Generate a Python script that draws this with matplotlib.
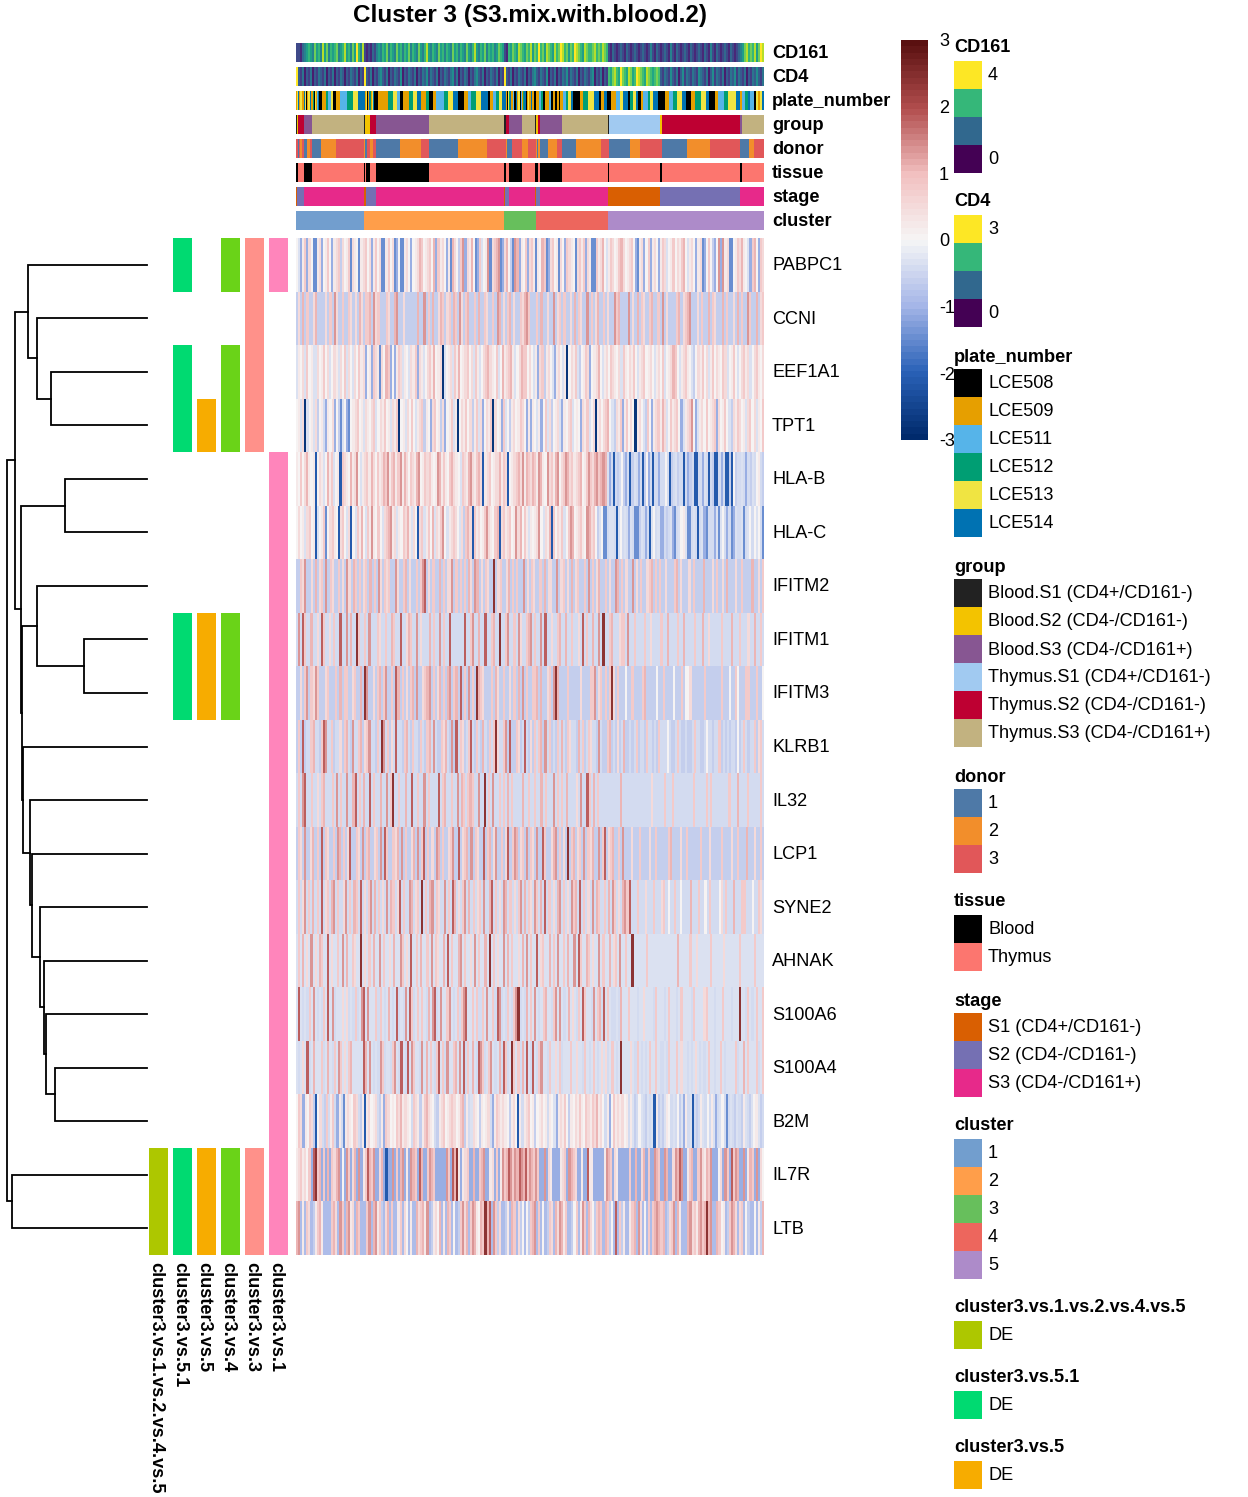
import numpy as np
import matplotlib
matplotlib.use('Agg')
import matplotlib.pyplot as plt
from matplotlib.colors import LinearSegmentedColormap, ListedColormap, Normalize

plt.rcParams['font.family'] = ['Liberation Sans', 'DejaVu Sans']

W, H = 1248, 1497

genes = ['PABPC1', 'CCNI', 'EEF1A1', 'TPT1', 'HLA-B', 'HLA-C', 'IFITM2', 'IFITM1', 'IFITM3', 'KLRB1',
         'IL32', 'LCP1', 'SYNE2', 'AHNAK', 'S100A6', 'S100A4', 'B2M', 'IL7R', 'LTB']

# expression per cell, one letter per cell
levels = dict(A=-2.8, B=-2.1, C=-1.5, D=-1.1, e=-0.9, E=-0.65, F=-0.45, G=-0.3, H=0.0, I=0.25,
              J=0.5, K=0.8, L=1.1, M=1.4, N=1.8, O=2.4)
expr = [
    'HGDIKDJHCCIJDHIKHDIJKEJHIKCJIHCIJKHJDIKHJCCIKHJCDHCCIJHDHIJLKHIJKHLDKIJHDICLJHEKMDJILHCDKGHIMCJKLMCDJLHECMLDIHKDJ'
    'KICIHLKCDJKHICJHDKJIHCJKIKDJICCKIJLHGIKJHIKLJHIJKHDCIJDHKDIJHDIKJGHIKHJIKLHGIJHDIJCDHKHEDHMDMIJCCHIKJLIHGDKLHDKJ',
    'EJELEKEEJLEEEEJEKEMJEEKEEKJEJELJEKKLEMJKEEEKJEELMEEJEEEEEELEEMEKELEEJLKEJKELKEMJEKLEEKELEEKJEEKEMLEJEKLEJEEKJLMK'
    'EEEKELEEJEEMEJKEKEEJELEKJEEMEKEJLEEKEJEEMKLEEEEMEJELEKJEEKLEEKEMEJEEEEKLEJKLMEEEJEKEELEKJEEELEKEEJELEKEEMKEELEJK',
    'GIHJGKHIGGJHIKHJGHJIGJHKGJHGJHKIJDHIDKJICJHLKDHDIKJGIHGJIKDJIGHJKILHIJAGHIJGKILHIJKHJGKIGHJKLJIHKGHLIJKLIGHJLKKHJ'
    'HGIDJKEIJHGDIJHGIAHJIKGEHIKJDHIJLHGIJHKJIHJGKIHJIKHGIJKHIJHGIJHKGHIJLKHGIJKIHGEHJIKHJGIKHJIHKJGHIKHGHJKIJGHJKIHJ',
    'HIGJAGHIGJEHIFDIHJDHECGHDCHIJKHIGJIHJKGHJIKHIGJIKAHIGJHKHGIJKEIHDJKHIEJDHIKGIAHJIKHJEIKGJDHJIKAJHIDKGHEIJHIKJHDI'
    'DIHGIDHKGJEHIJGDIHJKGHIHDJIKGHJAIJHJKLHGEJIKDIKHJHAIJHGEKHDIJKILJGHKIJKHDGIJKMHDGIJHKHIJKDJHIKHGEJIKJHIGJKHJGIHK',
    'IHKHJLIHIBHJIGHLIKGHIBKJIHLIJMHGIJKILJHKIJLKMIKLIKMILJHKJILMHIKJKIHIMLIKIHKLJIHGKJILMJIKLJBIJKHIJJLIKJBHIJKLJMILK'
    'JLKIMLIHMJKILMHJKMLJKIJKLHIKMKJLMKLMLGDFBFEFHEDFBEGFDFBEHDFBFFDFFHFBEFGEFFBFDEFBBFFDGFBFEBBFDFBBEBHEFFGFDFEGFHIFE',
    'HJHIGJKHIBGHIKCHJKIHBJKHGJBHGKILHGKIMIHKHGJKLMIJGIHKJLIGJHBJKGIKHLGJIKMHGIJKJHGJEKLJBKIJHIKMJIHKLBJKIJKHIMJLHKIGI'
    'HIJMHGJILBKHJIKGHKMLHIJKIHMLJKHEGHCCFGGFBGHFGFDGFCCEGFDFBGHFGDDFEFGDCFGHIGCCFGFBFGDCFFFDGCGHFDFCDGFFGCFGHFHGHFC',
    'EEKJMEEJELEJKEMEKJEEKEJEMJELKEKEJKELEKEMJEKJKEEMJEEKLEJEEKEKMNEJEKEELEKEJJMEKEKEKELJEMLEJEKJEEOEJKEEJLEKEKEEMEJEK'
    'JEEKELEJJEEMEJKEJELEJKEEKEMEKEJLEEKEJEEMLEKEJEEMEJEKEEJKLEKEKEEJEEEKLEJEEEJEKEEEELEEEJEKEEJELEEEJEEKEEEELEEJEK',
    'FMFNKFFLFFJFNKFFJFKFFNFFMFLFFOKFFKFMFFFKJFFKFFLKFFNFFJLKFFMFJFFFLFKFFMFKFFNFFFFFFNFFKMFFLFFNFFKLFFOFFKMFFKFMJFFKLM'
    'FKFFMFNFFJFFKLFFLFFKFFJFNFKFFLFFMFOFFKLFFFJKKFMFFKFFFFKFFJFFFFKFFLFFFFKFFLFFFFKFFFLFFJFFFFFKFFFFLFFFKFFFJFFLFFKF',
    'EEJEKMEKJMKEEEJKEEEKELEKKEEJKEELEOMEEJEKLEKMEEKENLEKEJEKLEMEEJKLMEKEJLEKELMEKLENEKEMEKEOLKJEEEKELJEEKEEJEKELEMEKE'
    'EKKLELEEJKEMOLEEEEKEEEEEJEEEEKKMEJKEKEKOJEKEEEHEEKEEEEKLEEEEEHEEKEEEEHEEEKEHHJEEEEEEKEEEEEEEKEEEHEEKHEEEKKEEEKEEH',
    'EKENEFFKLFFEKNMFFKEFFJEKLFEMFFKLEJKMFFEKFOMFKEJFNFFEKLFEKFFEKFEKLFMFEEKJLFEMENFKJEFKNFEKFELFEKFKOJFFKMENEEKJEFNFE'
    'JEKFKLEMFKEFEKFLFEKJFFELFKEFKJFFEMFEEKLEFEJEFLEEFEFKEFFEKFFEFEKFFFHFEEFKFEEFEEFKFFEEFHFFEFFKEFEFEFFEHEFKFEFFKEJKF',
    'FKFMNFFKFFJFKLFFFKFMFKFFMFFLNFKFLFFNFKFFLFFMFKOFFKFFLFFNFFKFFMFKFFFFNFKLFFKFFMFLKFKLKFFMFFOFKFMFFKFKFLFKFFFFLFFK'
    'FFKFFLFKFFFMFKFKFLFFFFJFMFFNKFLFKFFFFFFFFFFLFFFFFFFFFFFFFFJFFFFFKFFFKFFFFFFFFFKFFFFFKFKFFFFFFFFKFFFLFFFFKFFFFFKF',
    'EKJEMEEJLEKENEKJEEKEMLEKEJNEEKJEMEKLEEJKEMENKEEKJLEMEKEEJLEMEKNEKEJEMLEKEEJKMEENEJKLEMEKJEENEKLEJMEEKEJNEKMLEJKEME'
    'KJEMEENKEEJLMEKEJEOEKLEJKEMEKJLEEMEKNEJKLEEKEMEEEJEEEKEEEEJEEKEEEEEKLEEEEJEEKEEEEEEKEEEJEEEEEKEEEEJEEKEEELEEEJEEKE',
    'FKFJMFKFLFKFNFJKFLMFKFFJMFKFLKFNFJFKMFLFKFJFMFLKFJNFKFFMLFJKFOFKFLMFKJFFMFKFNLFJFKMFLFKFJKFMFFLNFKFJFMLFKFJFKMFLFK'
    'JFMKFLFNFKFJFLMFKFJFMKLFNFKFJFMFLKFFKFLFMKFJFLMKNFFFKFFFJFFFKFFFJKFHFFKFFHFFFFLFFFKFFHFKFFFFHJFKFFFLFFFKKFFFHFFKJF',
    'GKGLGJGMGJGLKGGNGJGGKGMGLGGKJGGOGJGKGLGGMGKGGJGLGGMKGJGNGGKGLGGKGMGKJGGLGNGKGGLMGKGGJGMGKGGLGOGKGJGGMGLGKGGJGLGMG'
    'KGGNGJKGGLGKGMGGKGLGGMGNKGGLKGJGGMGKGGLGJKGMGGKGGOGGGGGGKGGGGGGGGGGGGGGLGGGGGKGGJGGGGGGKGGGGGJGGGGGGGKGGGGGGKGGGG',
    'GNGFGFKGMGFGFKGNGMFGGGJGJFGFKFGMNGMGGGKFKGFGLGFGNFGFMGNKFGKGKGFLGMNFGMGGKMGFGKFKMNGGKGKFFKGMGGKFNMFGFKGFKMOFGFLGK'
    'GMGFGKLGGFKMGMGFGLGJGFKGNKGGFMGKLFNGKGFFGFLGGGKGGGFGGJGGGGFKGGGFGKGGGFGKGGGGFKGGGGJKGGGFGGGKGGGFGGGOGGFKGFGKGGK',
    'GFGJGNFGLGGGKFGLGFKGMKGJGKLGGGGGNLGMGFGFMKFGGFKMGFNGFNGMKGGFMGLGKGFKNGKFMGGKLGMGNFKGLGFNMKFGKMGFGLFNKFGOKGKFLGNGF'
    'NGFKMGGFKGGJGKFGGGKGGJGGFKGFGKGFGJGJFGKGFGOGGGGJGFKGFGFGKGGKGFFGFKGGGKGJGGFGFGJGFGFGKGGFGGKGFGGGGKFGGLGKGGGKFGK',
    'HKJDIHKJEBHJFEKFIKFDIFCIJIHKJFEIBIJHIJFEIDKJHIHKJLIJIHFKJIEIKLJIHFEIJKHIJKJHIKLEIFGJIHEIHIJFDIKJIJIHEIJHBIFIJKHIE'
    'HIJHIFIHGDIJIKHEIHJIKIHKJIKJLIJHFIDHKIJIJHIFIGEFHGFEGFGBIEFEGIHFGFHEGDIFGBFEFIGFHFIGDFGHFCFGFEGFEIGFEGHIGEF',
    'IJKIJHKDNOKLDKDLDKJLMDHDMKDJLDMDIKNLKMDDJLDBDDMDKDLMDIDMLKDNLDDKMLKDDDDDMKDNLOIDIJKDDLDDKLMDDIJDKDIMKLNMKMLNMLNKM'
    'LKMKDDMDJIDDDDIJKDMLKJDDIDDNIIDDDDDIMLKDJIDDDDDKDDLDDJLDKDDMLKDDMLDDJMLNMDDIKLDDKMJILKMDDDHJDMKDNKMLDDMDILKDMDJH',
    'LMeIeKJeEIKLIeeeeKLJeMKeLMIJeLKeeeKMeLMIKEeJLeKeeIKeJHeIeeLJKLIMeEIJHLeIeLKeHeEKMJLeKMLIHLKOLNeMKEJeeEIeLKeJEHeHE'
    'KLMeKeHeEKJeLJMLIKeeEHKeIMKeLJHEKLKeLKEHeNeKEIeeIKLeMJeHeKeKLMLKLeEJKMeLIeeeLMJKILMKLOLMeeLKHIeEKMLJeJKeHEeeHeIEL',
]

n_rows = len(genes)

# per gene membership of the differential expression bars
de_names = ['cluster3.vs.1.vs.2.vs.4.vs.5', 'cluster3.vs.5.1', 'cluster3.vs.5', 'cluster3.vs.4', 'cluster3.vs.3', 'cluster3.vs.1']
de_genes = [
    ['IL7R', 'LTB'],
    ['PABPC1', 'EEF1A1', 'TPT1', 'IFITM1', 'IFITM3', 'IL7R', 'LTB'],
    ['TPT1', 'IFITM1', 'IFITM3', 'IL7R', 'LTB'],
    ['PABPC1', 'EEF1A1', 'TPT1', 'IFITM1', 'IFITM3', 'IL7R', 'LTB'],
    ['PABPC1', 'CCNI', 'EEF1A1', 'TPT1', 'IL7R', 'LTB'],
    ['PABPC1', 'HLA-B', 'HLA-C', 'IFITM2', 'IFITM1', 'IFITM3', 'KLRB1', 'IL32', 'LCP1', 'SYNE2', 'AHNAK', 'S100A6',
     'S100A4', 'B2M', 'IL7R', 'LTB'],
]
de_colors = ['#ADC700', '#00DA71', '#F7AC00', '#6AD318', '#FF918A', '#FF85BB']

# dendrogram merges: left, right, height. Leaves are 0-18, new nodes count up from 19
merges = [
    (2, 3, 96), (1, 19, 110), (0, 20, 119),
    (4, 5, 82),
    (7, 8, 63), (6, 23, 110),
    (15, 16, 92), (14, 25, 101), (13, 26, 103), (12, 27, 107), (11, 28, 115), (10, 29, 117), (9, 30, 124),
    (24, 31, 125), (22, 32, 126), (21, 33, 132),
    (17, 18, 135), (34, 35, 140),
]

# top annotation tracks, cell values
cd161 = ('2213' '456547564857465674568564759648' '212132'
         '4546574654756465746547546854654756465475646547546854657465645765'
         '21' '65765876576857696758765867986757698765876678676876'
         '213212321321232123212421321232142132123213212321321421321232132123'
         '457867685798')
cd4 = ('9' '213021302132130213021320213213021' '9'
       '213021342130213214021321302132413213021321341302132021342130213213021'
       '9' '213021321302134213214021302132413213021321340213021'
       '65786597658756987658765676'
       '2132142130241321321432130241321302132413213021324213')
cd_cmap = plt.get_cmap('viridis')

plate_labels = ['LCE508', 'LCE509', 'LCE511', 'LCE512', 'LCE513', 'LCE514']
plate_colors = ['#000000', '#E69F00', '#56B4E9', '#009E73', '#F0E442', '#0072B2']
plate_runs = [(1, 1), (4, 1), (5, 1), (1, 1), (4, 2), (1, 2), (5, 1), (4, 1), (0, 1), (1, 1), (4, 2), (5, 1),
              (1, 2), (3, 1), (0, 1), (4, 1), (1, 1), (2, 1), (5, 1), (0, 3), (1, 4), (3, 2), (2, 2), (4, 2), (0, 3),
              (1, 4), (2, 7), (3, 6), (4, 5), (5, 7), (1, 1), (4, 1), (0, 1), (1, 1), (5, 1), (3, 1), (1, 1), (4, 1), (5, 1), (0, 1),
              (0, 3), (1, 10), (3, 5), (4, 3), (2, 3), (0, 3), (1, 6), (3, 4), (4, 4), (5, 4), (1, 5), (3, 3), (0, 4), (1, 3),
              (2, 8), (3, 4), (4, 5), (5, 5), (0, 5), (1, 4), (2, 3), (3, 5), (4, 5), (5, 7), (0, 2), (1, 3), (2, 3), (3, 3), (4, 3), (5, 4),
              (1, 1), (0, 1), (4, 1), (3, 1), (5, 1), (1, 2), (2, 1), (0, 2), (5, 1), (1, 1), (4, 2), (0, 1), (2, 1), (1, 1), (3, 1), (5, 2), (0, 1), (1, 1),
              (4, 1), (1, 1), (5, 1), (1, 2), (0, 2), (1, 3), (2, 2), (3, 2), (0, 2), (1, 4), (2, 2), (0, 2), (1, 2), (0, 2), (1, 2), (0, 1), (1, 3), (2, 3), (3, 2), (4, 3),
              (5, 2), (0, 7), (1, 3), (3, 5), (4, 6), (5, 4), (0, 2), (1, 3), (5, 3), (0, 4), (1, 5), (2, 4), (4, 3), (5, 5), (0, 2), (3, 3), (4, 3), (5, 2),
              (0, 3), (1, 2), (2, 5), (3, 2), (4, 3), (5, 5), (0, 2), (0, 4), (1, 4), (2, 4), (3, 4), (4, 5), (5, 4), (0, 5), (1, 4), (3, 6), (4, 5), (5, 3),
              (0, 6), (1, 3), (2, 6), (3, 4), (4, 7), (5, 4), (1, 2), (2, 3), (3, 3), (5, 2), (2, 4), (0, 2), (4, 2), (1, 2), (4, 2), (5, 2)]

group_labels = ['Blood.S1 (CD4+/CD161-)', 'Blood.S2 (CD4-/CD161-)', 'Blood.S3 (CD4-/CD161+)',
                'Thymus.S1 (CD4+/CD161-)', 'Thymus.S2 (CD4-/CD161-)', 'Thymus.S3 (CD4-/CD161+)']
group_colors = ['#222222', '#F3C300', '#875692', '#A1CAF1', '#BE0032', '#C2B280']
group_runs = [(0, 1), (1, 1), (4, 6), (2, 8), (5, 52), (0, 1), (1, 5), (4, 6), (2, 53), (5, 75), (0, 2), (4, 3), (2, 13), (5, 13),
              (0, 1), (1, 2), (4, 2), (2, 22), (5, 46), (0, 1), (3, 51), (1, 2), (4, 78), (2, 2), (5, 22)]

donor_labels = ['1', '2', '3']
donor_colors = ['#4E79A7', '#F28E2B', '#E15759']
donor_runs = [(2, 2), (0, 1), (2, 1), (1, 2), (2, 2), (0, 3), (1, 3), (2, 2), (0, 9), (1, 15), (2, 28), (1, 1), (0, 2), (2, 3), (1, 3), (2, 3),
              (0, 24), (1, 21), (2, 8), (0, 29), (1, 29), (2, 19), (1, 1), (0, 5), (2, 10), (1, 6), (2, 8), (1, 1), (0, 1), (1, 2),
              (0, 8), (1, 9), (2, 5), (0, 14), (1, 25), (2, 8), (0, 21), (1, 10), (2, 22), (0, 25), (1, 23), (2, 30), (0, 9), (1, 5), (2, 10)]

tissue_labels = ['Blood', 'Thymus']
tissue_colors = ['#000000', '#FC766F']
tissue_runs = [(0, 2), (1, 6), (0, 8), (1, 52), (0, 1), (1, 1), (0, 4), (1, 6), (0, 53), (1, 75), (0, 2), (1, 3), (0, 13), (1, 13),
               (0, 3), (1, 2), (0, 22), (1, 46), (0, 1), (1, 51), (0, 2), (1, 78), (0, 2), (1, 22)]

stage_labels = ['S1 (CD4+/CD161-)', 'S2 (CD4-/CD161-)', 'S3 (CD4-/CD161+)']
stage_colors = ['#D95F02', '#7570B3', '#E7298A']
stage_runs = [(0, 1), (1, 7), (2, 60), (0, 2), (1, 10), (2, 128), (0, 1), (1, 4), (2, 26), (0, 1), (1, 4), (2, 68), (0, 52), (1, 80), (2, 24)]

cluster_labels = ['1', '2', '3', '4', '5']
cluster_colors = ['#729ECE', '#FF9E4A', '#67BF5C', '#ED665D', '#AD8BC9']
cluster_runs = [(0, 68), (1, 140), (2, 32), (3, 72), (4, 156)]

heat_cmap = LinearSegmentedColormap.from_list('heat', ['#002A6C', '#2A62B8', '#A5B6E8', '#F6F6F6', '#F2C0C0', '#B24E4E', '#5A1010'], N=64)
heat_norm = Normalize(-3, 3)


def px_axes(x0, y0, x1, y1):
    ax = fig.add_axes([x0 / W, 1 - y1 / H, (x1 - x0) / W, (y1 - y0) / H])
    ax.set_axis_off()
    return ax


def px_text(x, y, s, **kw):
    kw.setdefault('fontsize', 13.1)
    kw.setdefault('va', 'center')
    return fig.text(x / W, 1 - (y + 1) / H, s, **kw)


def draw_cells(ax, values, cmap, norm, row=0):
    edges = np.linspace(0, 1, len(values) + 1)
    ax.pcolormesh(edges, [row, row + 1], np.array(values, dtype=float)[None, :], cmap=cmap, norm=norm)


def from_runs(runs):
    return np.concatenate([np.full(n, v) for v, n in runs])


fig = plt.figure(figsize=(W / 100, H / 100), dpi=100)

px_text(530, 14.5, 'Cluster 3 (S3.mix.with.blood.2)', fontsize=17.5, fontweight='bold', ha='center')

# top tracks
cell_tracks = [
    ('CD161', [int(c) for c in cd161], cd_cmap, Normalize(0, 9), 43),
    ('CD4', [int(c) for c in cd4], cd_cmap, Normalize(-0.8, 9), 67),
    ('plate_number', from_runs(plate_runs), ListedColormap(plate_colors), Normalize(-0.5, 5.5), 91),
    ('group', from_runs(group_runs), ListedColormap(group_colors), Normalize(-0.5, 5.5), 115),
    ('donor', from_runs(donor_runs), ListedColormap(donor_colors), Normalize(-0.5, 2.5), 139),
    ('tissue', from_runs(tissue_runs), ListedColormap(tissue_colors), Normalize(-0.5, 1.5), 163),
    ('stage', from_runs(stage_runs), ListedColormap(stage_colors), Normalize(-0.5, 2.5), 187),
    ('cluster', from_runs(cluster_runs), ListedColormap(cluster_colors), Normalize(-0.5, 4.5), 211),
]
for name, vals, cmap, norm, top in cell_tracks:
    ax = px_axes(296, top, 764, top + 19)
    draw_cells(ax, vals, cmap, norm)
    ax.set_xlim(0, 1)
    ax.set_ylim(1, 0)
    px_text(772, top + 9, name, fontweight='bold')

# heatmap, one row at a time
ax = px_axes(296, 238, 764, 1255)
for i, row in enumerate(expr):
    draw_cells(ax, [levels[c] for c in row], heat_cmap, heat_norm, i)
ax.set_xlim(0, 1)
ax.set_ylim(n_rows, 0)
row_h = (1255 - 238) / n_rows
for i, g in enumerate(genes):
    px_text(772, 238 + row_h * (i + 0.5), g)

# differential expression bars
for k, (name, members, col) in enumerate(zip(de_names, de_genes, de_colors)):
    x0 = 149 + 24 * k
    ax = px_axes(x0, 238, x0 + 19, 1255)
    ax.barh([genes.index(g) + 0.5 for g in members], [1] * len(members), height=1, color=col, linewidth=0)
    ax.set_xlim(0, 1)
    ax.set_ylim(n_rows, 0)
    fig.text((x0 + 6.5) / W, 1 - 1262 / H, name, rotation=-90, ha='center', va='top', fontsize=13.1, fontweight='bold')

# dendrogram
ax = px_axes(0, 238, 147, 1255)
node_y = {i: i + 0.5 for i in range(n_rows)}
node_h = {i: 0 for i in range(n_rows)}
for k, (a, b, h) in enumerate(merges):
    ax.plot([node_h[a], h, h, node_h[b]], [node_y[a], node_y[a], node_y[b], node_y[b]],
            color='black', lw=1.3, solid_joinstyle='miter', clip_on=False)
    node_y[n_rows + k] = (node_y[a] + node_y[b]) / 2
    node_h[n_rows + k] = h
ax.set_xlim(147, 0)
ax.set_ylim(n_rows, 0)

# colour bar
ax = fig.add_axes([901 / W, 1 - 440 / H, 27 / W, 400 / H])
grad = np.linspace(-3, 3, 64)
ax.pcolormesh([0, 1], np.linspace(-3, 3, 65), grad[:, None], cmap=heat_cmap, norm=heat_norm)
ax.set_xticks([])
ax.set_ylim(-3, 3)
ax.yaxis.tick_right()
ax.set_yticks(range(-3, 4))
ax.set_yticklabels([str(v) for v in range(-3, 4)], fontsize=13.1)
ax.tick_params(axis='y', length=0, pad=8)
for s in ax.spines.values():
    s.set_visible(False)


# legends
def legend(title, title_y, top, labels, colors, label_rows=None):
    px_text(954, title_y, title, fontweight='bold')
    ax = px_axes(954, top, 982, top + 28 * len(colors))
    ax.pcolormesh([0, 1], np.arange(len(colors) + 1), np.arange(len(colors))[:, None],
                  cmap=ListedColormap(colors), vmin=-0.5, vmax=len(colors) - 0.5)
    ax.set_ylim(len(colors), 0)
    if label_rows is None:
        label_rows = range(len(labels))
    for r, lab in zip(label_rows, labels):
        px_text(988, top + 28 * r + 14, lab)


vir4 = ['#FDE725', '#35B779', '#31688E', '#440154']
legend('CD161', 47, 61, ['4', '0'], vir4, [0, 3])
legend('CD4', 201, 215, ['3', '0'], vir4, [0, 3])
legend('plate_number', 356, 369, plate_labels, plate_colors)
legend('group', 566, 579, group_labels, group_colors)
legend('donor', 776, 789, donor_labels, donor_colors)
legend('tissue', 901, 915, tissue_labels, tissue_colors)
legend('stage', 1000, 1013, stage_labels, stage_colors)
legend('cluster', 1125, 1139, cluster_labels, cluster_colors)
legend(de_names[0], 1307, 1321, ['DE'], [de_colors[0]])
legend(de_names[1], 1377, 1391, ['DE'], [de_colors[1]])
legend(de_names[2], 1447, 1461, ['DE'], [de_colors[2]])

fig.savefig('out.png', dpi=100)
